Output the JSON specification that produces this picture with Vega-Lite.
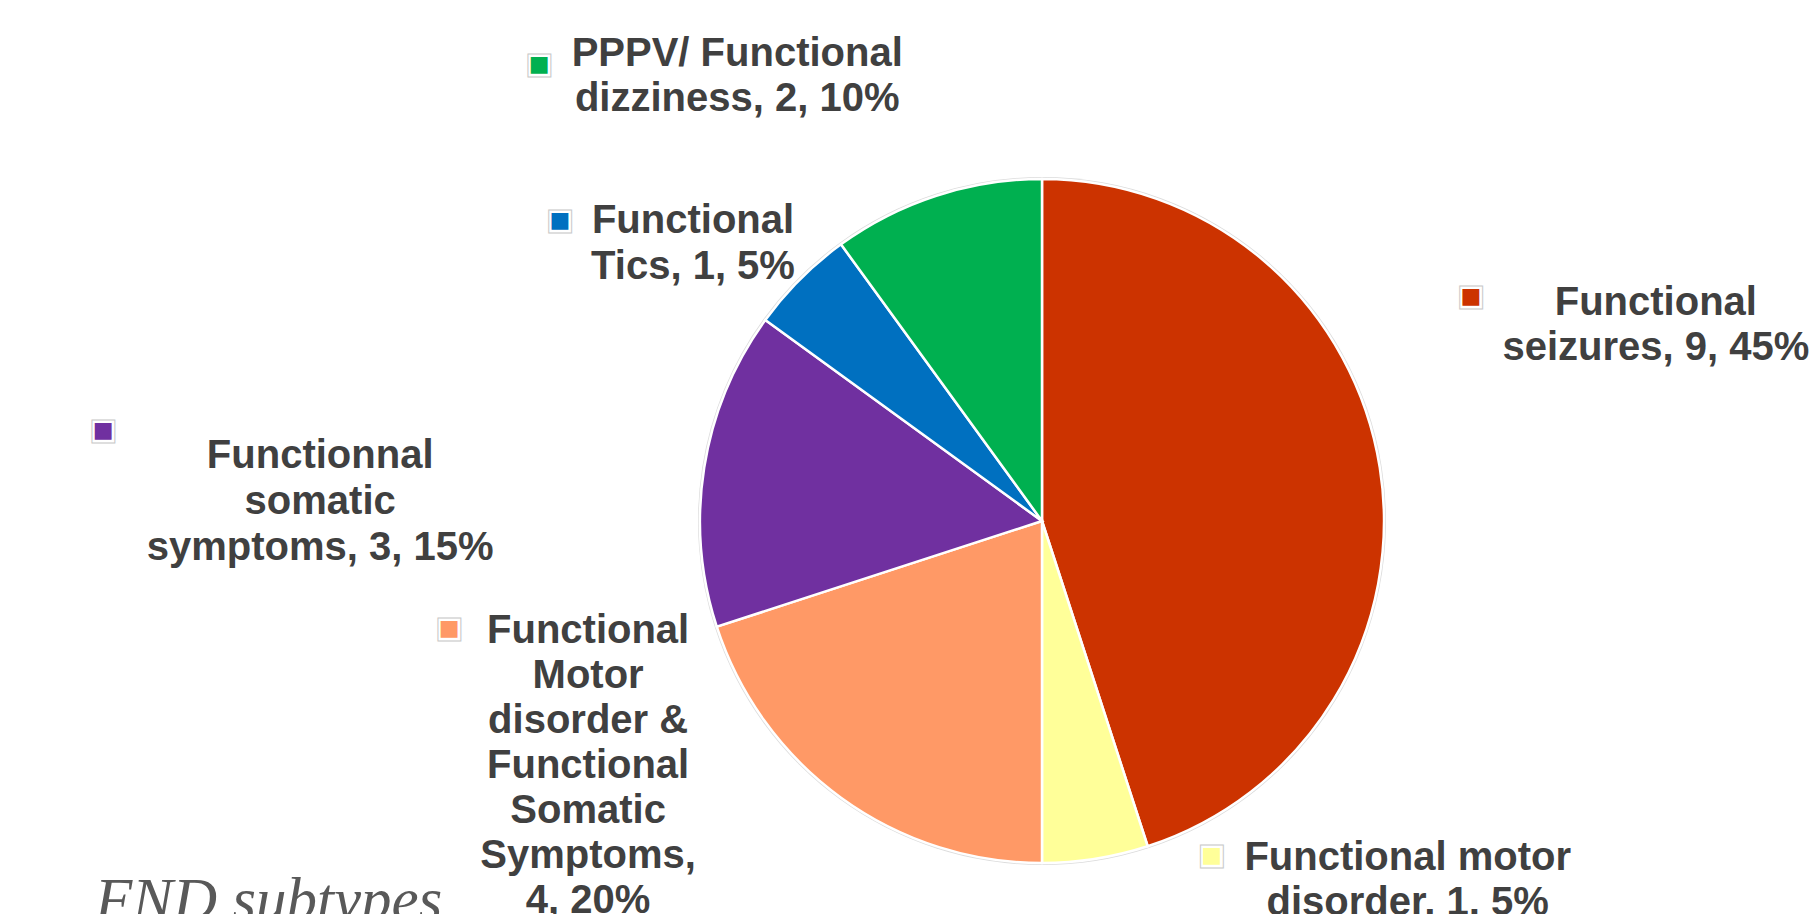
{
  "$schema": "https://vega.github.io/schema/vega-lite/v6.json",
  "width": 1550,
  "height": 786,
  "autosize": {"type": "none"},
  "padding": {"left": 267, "top": 128, "right": 0, "bottom": 0},
  "background": "#ffffff",
  "config": {"view": {"stroke": null}, "text": {"font": "Liberation Sans"}},
  "title": {
    "text": "FND subtypes",
    "orient": "bottom",
    "anchor": "start",
    "frame": "group",
    "font": "Liberation Serif",
    "fontStyle": "italic",
    "fontWeight": "normal",
    "fontSize": 61,
    "color": "#595959",
    "baseline": "alphabetic",
    "offset": -37,
    "dx": -172
  },
  "data": {
    "values": [
      {"rank": 1, "name": "Functional seizures", "count": 9, "label": "Functional\nseizures, 9, 45%"},
      {"rank": 2, "name": "Functional motor disorder", "count": 1, "label": "Functional motor\ndisorder, 1, 5%"},
      {"rank": 3, "name": "Functional Motor disorder & Functional Somatic Symptoms", "count": 4, "label": "Functional\nMotor\ndisorder &\nFunctional\nSomatic\nSymptoms,\n4, 20%"},
      {"rank": 4, "name": "Functionnal somatic symptoms", "count": 3, "label": "Functionnal\nsomatic\nsymptoms, 3, 15%"},
      {"rank": 5, "name": "Functional Tics", "count": 1, "label": "Functional\nTics, 1, 5%"},
      {"rank": 6, "name": "PPPV/ Functional dizziness", "count": 2, "label": "PPPV/ Functional\ndizziness, 2, 10%"}
    ]
  },
  "encoding": {
    "theta": {"field": "count", "type": "quantitative", "stack": true},
    "order": {"field": "rank", "type": "quantitative"},
    "detail": {"field": "name", "type": "nominal"}
  },
  "layer": [
    {"mark": {"type": "arc", "radius": 344, "fill": "#dcdcdc"}},
    {
      "mark": {"type": "arc", "radius": 342, "stroke": "#ffffff", "strokeWidth": 2.5},
      "encoding": {
        "color": {
          "field": "name",
          "type": "nominal",
          "scale": {
            "domain": ["Functional seizures", "Functional motor disorder", "Functional Motor disorder & Functional Somatic Symptoms", "Functionnal somatic symptoms", "Functional Tics", "PPPV/ Functional dizziness"],
            "range": ["#CC3300", "#FFFF99", "#FF9966", "#7030A0", "#0070C0", "#00B050"]
          },
          "legend": null
        }
      }
    },
    {"mark": {"type": "text", "radius": 420, "dx": 199, "dy": -140, "align": "center", "baseline": "alphabetic", "fontSize": 40, "fontWeight": "bold", "lineBreak": "\n", "lineHeight": 45, "fill": "#404040"},
     "encoding": {"text": {"condition": {"test": "datum.name === 'Functional seizures'", "field": "label"}, "value": ""}}},
    {"mark": {"type": "text", "radius": 420, "dx": 300, "dy": -66, "align": "center", "baseline": "alphabetic", "fontSize": 40, "fontWeight": "bold", "lineBreak": "\n", "lineHeight": 45, "fill": "#404040"},
     "encoding": {"text": {"condition": {"test": "datum.name === 'Functional motor disorder'", "field": "label"}, "value": ""}}},
    {"mark": {"type": "text", "radius": 420, "dx": -207, "dy": -218, "align": "center", "baseline": "alphabetic", "fontSize": 40, "fontWeight": "bold", "lineBreak": "\n", "lineHeight": 45, "fill": "#404040"},
     "encoding": {"text": {"condition": {"test": "datum.rank === 3", "field": "label"}, "value": ""}}},
    {"mark": {"type": "text", "radius": 420, "dx": -307, "dy": 13, "align": "center", "baseline": "alphabetic", "fontSize": 40, "fontWeight": "bold", "lineBreak": "\n", "lineHeight": 46, "fill": "#404040"},
     "encoding": {"text": {"condition": {"test": "datum.name === 'Functionnal somatic symptoms'", "field": "label"}, "value": ""}}},
    {"mark": {"type": "text", "radius": 420, "dx": -52, "dy": 9, "align": "center", "baseline": "alphabetic", "fontSize": 40, "fontWeight": "bold", "lineBreak": "\n", "lineHeight": 46, "fill": "#404040"},
     "encoding": {"text": {"condition": {"test": "datum.name === 'Functional Tics'", "field": "label"}, "value": ""}}},
    {"mark": {"type": "text", "radius": 420, "dx": -175, "dy": -56, "align": "center", "baseline": "alphabetic", "fontSize": 40, "fontWeight": "bold", "lineBreak": "\n", "lineHeight": 45, "fill": "#404040"},
     "encoding": {"text": {"condition": {"test": "datum.name === 'PPPV/ Functional dizziness'", "field": "label"}, "value": ""}}},

    {"mark": {"type": "text", "radius": 420, "dx": 14, "dy": -159, "align": "center", "baseline": "middle", "font": "DejaVu Sans", "fontSize": 30, "fill": "#ffffff", "stroke": "#c8c8c8", "strokeWidth": 1},
     "encoding": {"text": {"condition": {"test": "datum.name === 'Functional seizures'", "value": "■"}, "value": ""}}},
    {"mark": {"type": "text", "radius": 420, "dx": 14, "dy": -159, "align": "center", "baseline": "middle", "font": "DejaVu Sans", "fontSize": 22},
     "encoding": {"color": {"field": "name", "type": "nominal", "legend": null}, "text": {"condition": {"test": "datum.name === 'Functional seizures'", "value": "■"}, "value": ""}}},
    {"mark": {"type": "text", "radius": 420, "dx": 104, "dy": -81, "align": "center", "baseline": "middle", "font": "DejaVu Sans", "fontSize": 30, "fill": "#ffffff", "stroke": "#c8c8c8", "strokeWidth": 1},
     "encoding": {"text": {"condition": {"test": "datum.name === 'Functional motor disorder'", "value": "■"}, "value": ""}}},
    {"mark": {"type": "text", "radius": 420, "dx": 104, "dy": -81, "align": "center", "baseline": "middle", "font": "DejaVu Sans", "fontSize": 22},
     "encoding": {"color": {"field": "name", "type": "nominal", "legend": null}, "text": {"condition": {"test": "datum.name === 'Functional motor disorder'", "value": "■"}, "value": ""}}},
    {"mark": {"type": "text", "radius": 420, "dx": -346, "dy": -233, "align": "center", "baseline": "middle", "font": "DejaVu Sans", "fontSize": 30, "fill": "#ffffff", "stroke": "#c8c8c8", "strokeWidth": 1},
     "encoding": {"text": {"condition": {"test": "datum.rank === 3", "value": "■"}, "value": ""}}},
    {"mark": {"type": "text", "radius": 420, "dx": -346, "dy": -233, "align": "center", "baseline": "middle", "font": "DejaVu Sans", "fontSize": 22},
     "encoding": {"color": {"field": "name", "type": "nominal", "legend": null}, "text": {"condition": {"test": "datum.rank === 3", "value": "■"}, "value": ""}}},
    {"mark": {"type": "text", "radius": 420, "dx": -524, "dy": -25, "align": "center", "baseline": "middle", "font": "DejaVu Sans", "fontSize": 30, "fill": "#ffffff", "stroke": "#c8c8c8", "strokeWidth": 1},
     "encoding": {"text": {"condition": {"test": "datum.name === 'Functionnal somatic symptoms'", "value": "■"}, "value": ""}}},
    {"mark": {"type": "text", "radius": 420, "dx": -524, "dy": -25, "align": "center", "baseline": "middle", "font": "DejaVu Sans", "fontSize": 22},
     "encoding": {"color": {"field": "name", "type": "nominal", "legend": null}, "text": {"condition": {"test": "datum.name === 'Functionnal somatic symptoms'", "value": "■"}, "value": ""}}},
    {"mark": {"type": "text", "radius": 420, "dx": -185, "dy": -4, "align": "center", "baseline": "middle", "font": "DejaVu Sans", "fontSize": 30, "fill": "#ffffff", "stroke": "#c8c8c8", "strokeWidth": 1},
     "encoding": {"text": {"condition": {"test": "datum.name === 'Functional Tics'", "value": "■"}, "value": ""}}},
    {"mark": {"type": "text", "radius": 420, "dx": -185, "dy": -4, "align": "center", "baseline": "middle", "font": "DejaVu Sans", "fontSize": 22},
     "encoding": {"color": {"field": "name", "type": "nominal", "legend": null}, "text": {"condition": {"test": "datum.name === 'Functional Tics'", "value": "■"}, "value": ""}}},
    {"mark": {"type": "text", "radius": 420, "dx": -373, "dy": -58, "align": "center", "baseline": "middle", "font": "DejaVu Sans", "fontSize": 30, "fill": "#ffffff", "stroke": "#c8c8c8", "strokeWidth": 1},
     "encoding": {"text": {"condition": {"test": "datum.name === 'PPPV/ Functional dizziness'", "value": "■"}, "value": ""}}},
    {"mark": {"type": "text", "radius": 420, "dx": -373, "dy": -58, "align": "center", "baseline": "middle", "font": "DejaVu Sans", "fontSize": 22},
     "encoding": {"color": {"field": "name", "type": "nominal", "legend": null}, "text": {"condition": {"test": "datum.name === 'PPPV/ Functional dizziness'", "value": "■"}, "value": ""}}}
  ]
}
